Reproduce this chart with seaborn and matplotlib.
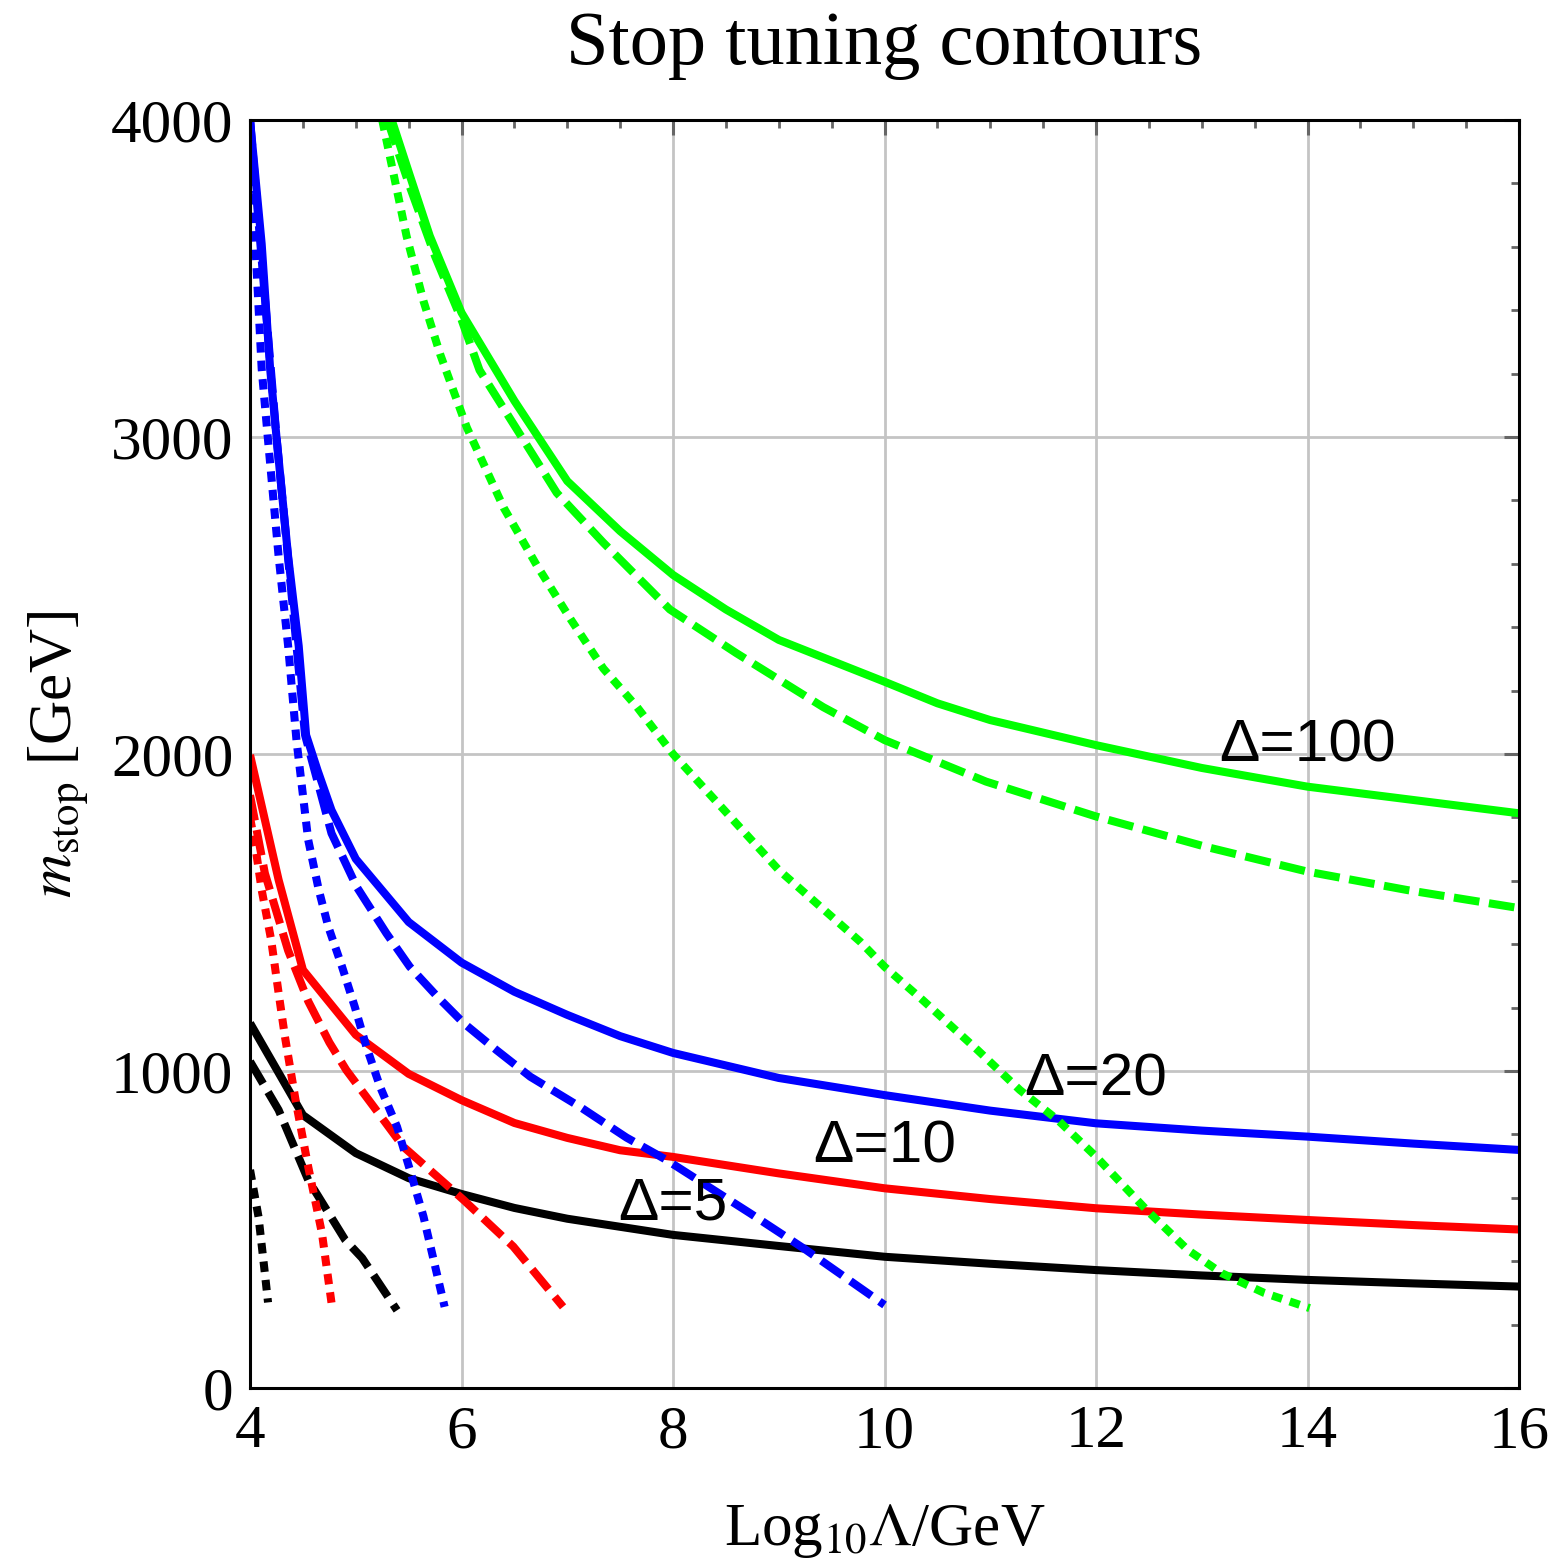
import pandas as pd
import seaborn as sns
import matplotlib.pyplot as plt
from matplotlib.ticker import MultipleLocator

# Stop tuning contours: m_stop vs log10(Lambda) for several tuning levels Delta
# three curve variants per Delta: solid, dashed, dotted

# Delta = 5 (black)
x_d5_solid = [4, 4.5, 5, 5.5, 6, 6.5, 7, 8, 9, 10, 11, 12, 13, 14, 15, 16]
y_d5_solid = [1151, 861, 741, 662, 612, 568, 534, 483, 448, 414, 392, 372, 355, 341, 330, 320]
x_d5_dashed = [4, 4.27, 4.55, 4.9, 5.06, 5.39]
y_d5_dashed = [1030, 877, 656, 467, 410, 245]
x_d5_dotted = [4, 4.08, 4.14, 4.17]
y_d5_dotted = [688, 540, 362, 270]

# Delta = 10 (red)
x_d10_solid = [4, 4.27, 4.5, 5, 5.5, 6, 6.5, 7, 7.5, 8, 9, 10, 11, 12, 13, 14, 15, 16]
y_d10_solid = [1997, 1603, 1319, 1114, 991, 908, 836, 789, 750, 729, 677, 630, 596, 567, 547, 530, 514, 500]
x_d10_dashed = [4, 4.14, 4.36, 4.55, 4.75, 4.91, 5.17, 5.45, 5.77, 6.02, 6.49, 6.96]
y_d10_dashed = [1870, 1624, 1380, 1220, 1090, 1003, 887, 761, 667, 593, 446, 256]
x_d10_dotted = [4, 4.05, 4.11, 4.2, 4.27, 4.33, 4.43, 4.55, 4.68, 4.78]
y_d10_dotted = [1800, 1708, 1571, 1413, 1246, 1108, 909, 698, 488, 245]

# Delta = 20 (blue)
x_d20_solid = [4, 4.11, 4.19, 4.25, 4.36, 4.46, 4.53, 4.64, 4.77, 5.0, 5.5, 6.0, 6.5, 7, 7.5,
               8, 9, 10, 11, 12, 13, 14, 15, 16]
y_d20_solid = [4000, 3609, 3215, 3000, 2624, 2341, 2060, 1947, 1823, 1669, 1470, 1342, 1250, 1177, 1110,
               1057, 978, 924, 875, 835, 812, 793, 771, 751]
x_d20_dashed = [4, 4.25, 4.52, 4.77, 5.01, 5.29, 5.51, 5.77, 6.02, 6.33, 6.65, 7.12, 7.56, 7.94,
                8.73, 9.26, 10.0]
y_d20_dashed = [4000, 3000, 2060, 1750, 1580, 1434, 1329, 1235, 1151, 1066, 982, 887, 790, 719,
                551, 435, 262]
x_d20_dotted = [4, 4.05, 4.11, 4.17, 4.27, 4.36, 4.44, 4.55, 4.65, 4.74, 4.87, 4.99, 5.1, 5.23,
                5.39, 5.51, 5.64, 5.84]
y_d20_dotted = [4000, 3609, 3215, 2990, 2624, 2341, 2040, 1729, 1571, 1455, 1329, 1203, 1077, 950,
                824, 690, 541, 256]

# Delta = 100 (green)
x_d100_solid = [5.34, 5.51, 5.70, 6.0, 6.5, 7.0, 7.5, 8.0, 8.5, 9.0, 10, 10.5, 11, 12, 13, 14, 15, 16]
y_d100_solid = [4000, 3826, 3634, 3392, 3114, 2861, 2703, 2565, 2456, 2360, 2228, 2160, 2107, 2028,
                1956, 1897, 1855, 1813]
x_d100_dashed = [5.3, 5.5, 5.75, 6.0, 6.17, 6.58, 6.9, 7.34, 7.97, 8.6, 9.42, 10, 10.96, 12, 13.03,
                 14, 14.94, 16]
y_d100_dashed = [4000, 3800, 3570, 3370, 3211, 2994, 2824, 2667, 2456, 2318, 2148, 2044, 1913, 1803,
                 1708, 1629, 1571, 1514]
x_d100_dotted = [5.25, 5.48, 5.64, 5.8, 6.05, 6.4, 6.71, 7.03, 7.34, 7.66, 8.0, 9.0, 9.77, 10.0,
                 10.36, 10.88, 11.28, 11.64, 12.0, 12.48, 12.87, 13.19, 13.59, 14.02]
y_d100_dotted = [4000, 3634, 3429, 3259, 3030, 2776, 2596, 2426, 2270, 2148, 2000, 1634, 1408, 1329,
                 1224, 1066, 940, 845, 730, 561, 435, 362, 300, 252]

deltas = [5, 10, 20, 100]
styles = ["solid", "dashed", "dotted"]
colors = ["#000000", "#FF0000", "#0000FF", "#00FF00"]

# label text and where it sits (x, baseline y)
label_text = ["\u0394=5", "\u0394=10", "\u0394=20", "\u0394=100"]
label_x = [8, 10, 12, 14]
label_y = [530, 710, 924, 1975]

curves = {
    (5, "solid"): (x_d5_solid, y_d5_solid),
    (5, "dashed"): (x_d5_dashed, y_d5_dashed),
    (5, "dotted"): (x_d5_dotted, y_d5_dotted),
    (10, "solid"): (x_d10_solid, y_d10_solid),
    (10, "dashed"): (x_d10_dashed, y_d10_dashed),
    (10, "dotted"): (x_d10_dotted, y_d10_dotted),
    (20, "solid"): (x_d20_solid, y_d20_solid),
    (20, "dashed"): (x_d20_dashed, y_d20_dashed),
    (20, "dotted"): (x_d20_dotted, y_d20_dotted),
    (100, "solid"): (x_d100_solid, y_d100_solid),
    (100, "dashed"): (x_d100_dashed, y_d100_dashed),
    (100, "dotted"): (x_d100_dotted, y_d100_dotted),
}

rows = []
for (d, s), (xs, ys) in curves.items():
    for i, (xv, yv) in enumerate(zip(xs, ys)):
        rows.append({"loglam": xv, "mstop": yv, "delta": d, "style": s, "i": i})
df = pd.DataFrame(rows)

sns.set_theme(style="white")
plt.rcParams["font.family"] = ["Liberation Serif", "DejaVu Serif"]
plt.rcParams["mathtext.fontset"] = "stix"
plt.rcParams["text.color"] = "black"
plt.rcParams["axes.labelcolor"] = "black"
plt.rcParams["xtick.labelcolor"] = "black"
plt.rcParams["ytick.labelcolor"] = "black"

fig = plt.figure(figsize=(15.57, 15.65), dpi=100)
ax = fig.add_axes([0.1606, 0.1131, 0.8150, 0.8102])

sns.lineplot(
    data=df, x="loglam", y="mstop", hue="delta", style="style",
    hue_order=deltas, style_order=styles,
    palette=dict(zip(deltas, colors)),
    dashes={"solid": "", "dashed": (3.2, 1.2), "dotted": (1.3, 1.0)},
    sort=False, estimator=None, legend=False, linewidth=5.8,
    dash_capstyle="butt", solid_capstyle="butt", ax=ax,
)

for t, lx, ly in zip(label_text, label_x, label_y):
    ax.text(lx, ly, t, ha="center", va="baseline", fontsize=43.5,
            family=["Liberation Sans", "DejaVu Sans"], color="black")

ax.set_xlim(4, 16)
ax.set_ylim(0, 4000)
ax.xaxis.set_major_locator(MultipleLocator(2))
ax.xaxis.set_minor_locator(MultipleLocator(0.5))
ax.yaxis.set_major_locator(MultipleLocator(1000))
ax.yaxis.set_minor_locator(MultipleLocator(200))

ax.grid(True, which="major", color="#c4c4c4", linewidth=2)
ax.set_axisbelow(True)

ax.tick_params(which="both", direction="in", top=True, right=True,
               color="#666666", labelsize=44, pad=12)
ax.tick_params(which="major", length=11, width=2.2)
ax.tick_params(which="minor", length=6, width=2)
for sp in ax.spines.values():
    sp.set_color("black")
    sp.set_linewidth(2.2)

ax.set_xlabel(r"Log$_{10}\Lambda$/GeV", fontsize=44, labelpad=30)
ax.set_ylabel(r"$m_{\mathrm{stop}}$ [GeV]", fontsize=44, labelpad=15)
ax.set_title("Stop tuning contours", fontsize=55, pad=40)

plt.savefig("out.png", dpi=100)
plt.close()
